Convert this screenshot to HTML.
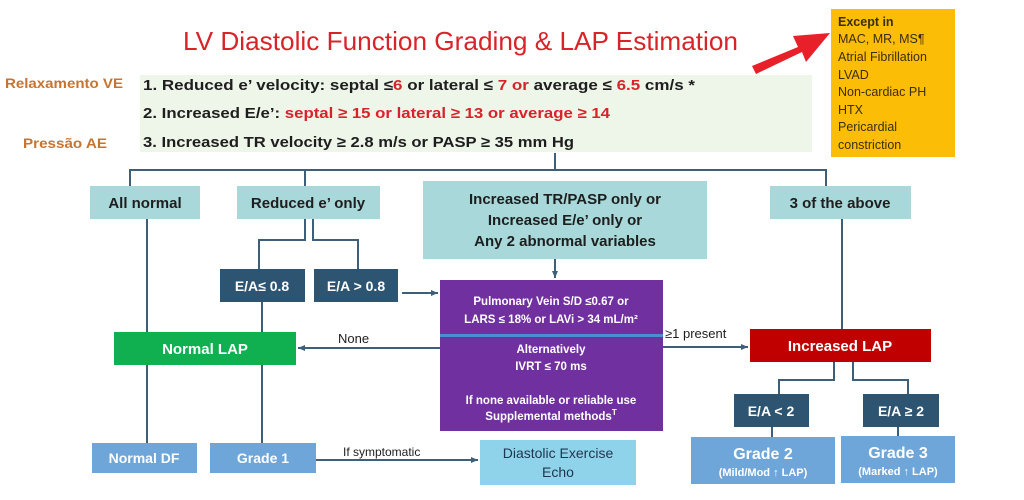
<!DOCTYPE html>
<html><head><meta charset="utf-8"><style>
html,body{margin:0;padding:0;background:#fff;}
svg{display:block;font-family:"Liberation Sans",sans-serif;}
.b{font-weight:bold;}
</style></head><body>
<svg width="1024" height="500" viewBox="0 0 1024 500" xmlns="http://www.w3.org/2000/svg">
<defs><marker id="ar" markerUnits="userSpaceOnUse" markerWidth="8" markerHeight="8" refX="7" refY="4" orient="auto"><path d="M0,1 L7,4 L0,7 Z" fill="#3d5f7a"/></marker></defs>
<rect width="1024" height="500" fill="#fff"/>
<text x="183" y="50" font-size="26" fill="#d9232a" textLength="555" lengthAdjust="spacingAndGlyphs">LV Diastolic Function Grading &amp; LAP Estimation</text>
<!-- red arrow -->
<path d="M752,66 L798,47 L793,36 L830,33 L806,62 L802,52 L756,74 Z" fill="#e8202a"/>
<!-- criteria bg -->
<rect x="140" y="75" width="672" height="77" fill="#eef5e9"/>
<text x="5" y="88" font-size="14" class="b" fill="#c8742f" textLength="118" lengthAdjust="spacingAndGlyphs">Relaxamento VE</text>
<text x="23" y="148" font-size="14" class="b" fill="#c8742f" textLength="84" lengthAdjust="spacingAndGlyphs">Pressão AE</text>
<g font-size="15" class="b" fill="#1e1e1e">
<text x="143" y="90" textLength="552" lengthAdjust="spacingAndGlyphs">1. Reduced e’ velocity:  septal ≤<tspan fill="#d9232a">6</tspan>  or lateral ≤ <tspan fill="#d9232a">7 or</tspan> average ≤ <tspan fill="#d9232a">6.5</tspan> cm/s *</text>
<text x="143" y="118" textLength="467" lengthAdjust="spacingAndGlyphs">2. Increased E/e’: <tspan fill="#d9232a">septal ≥ 15 or lateral ≥ 13 or average ≥ 14</tspan></text>
<text x="143" y="147" textLength="431" lengthAdjust="spacingAndGlyphs">3. Increased TR velocity ≥ 2.8 m/s or PASP ≥ 35 mm Hg</text>
</g>
<!-- orange box -->
<rect x="831" y="9" width="124" height="148" fill="#fcbd06"/>
<g font-size="12.5" fill="#3a2e10">
<text x="838" y="26" class="b">Except in</text>
<text x="838" y="43">MAC, MR, MS¶</text>
<text x="838" y="61">Atrial Fibrillation</text>
<text x="838" y="79">LVAD</text>
<text x="838" y="96">Non-cardiac PH</text>
<text x="838" y="114">HTX</text>
<text x="838" y="131">Pericardial</text>
<text x="838" y="149">constriction</text>
</g>
<!-- connectors -->
<g stroke="#3d5f7a" stroke-width="2" fill="none">
<path d="M555,153 V170 M130,186 V170 H826 V186 M305,170 V186"/>
<path d="M147,219 V332 M147,365 V444 M262,302 V332 M262,365 V444"/>
<path d="M305,219 V240 H259 V269 M313,219 V240 H358 V269"/>
<path d="M842,219 V329"/>
<path d="M834,362 V380 H779 V394 M853,362 V380 H908 V394 M772,427 V437 M898,427 V437"/>
<path d="M402,293 H438" marker-end="url(#ar)"/>
<path d="M555,259 V278" marker-end="url(#ar)"/>
<path d="M440,348 H298" marker-end="url(#ar)"/>
<path d="M663,347 H748" marker-end="url(#ar)"/>
<path d="M316,460 H478" marker-end="url(#ar)"/>
</g>
<!-- teal boxes -->
<g fill="#a8d8d9">
<rect x="90" y="186" width="110" height="33"/>
<rect x="237" y="186" width="143" height="33"/>
<rect x="423" y="181" width="284" height="78"/>
<rect x="770" y="186" width="141" height="33"/>
</g>
<g font-size="15" class="b" fill="#1e1e1e" text-anchor="middle">
<text x="145" y="208">All normal</text>
<text x="308" y="208">Reduced e’ only</text>
<text x="565" y="204">Increased TR/PASP only or</text>
<text x="565" y="225">Increased E/e’ only or</text>
<text x="565" y="246">Any 2 abnormal variables</text>
<text x="840" y="208">3 of the above</text>
</g>
<!-- dark boxes -->
<g fill="#2d5470">
<rect x="220" y="269" width="85" height="33"/>
<rect x="314" y="269" width="84" height="33"/>
<rect x="734" y="394" width="75" height="33"/>
<rect x="863" y="394" width="76" height="33"/>
</g>
<g font-size="14" class="b" fill="#fff" text-anchor="middle">
<text x="262" y="291">E/A≤ 0.8</text>
<text x="356" y="291">E/A &gt; 0.8</text>
<text x="771" y="416">E/A &lt;  2</text>
<text x="901" y="416">E/A ≥ 2</text>
</g>
<!-- purple -->
<rect x="440" y="280" width="223" height="151" fill="#7030a0"/>
<rect x="440" y="334" width="223" height="3" fill="#4a8fd4"/>
<g font-size="11.5" class="b" fill="#fff" text-anchor="middle">
<text x="551" y="305">Pulmonary Vein S/D ≤0.67 or</text>
<text x="551" y="323">LARS ≤ 18% or LAVi &gt; 34 mL/m²</text>
<text x="551" y="353">Alternatively</text>
<text x="551" y="370">IVRT  ≤ 70 ms</text>
<text x="551" y="404">If none available or reliable use</text>
<text x="551" y="420">Supplemental methods<tspan font-size="8" dy="-5">T</tspan></text>
</g>
<!-- LAP boxes -->
<rect x="114" y="332" width="182" height="33" fill="#10b050"/>
<rect x="750" y="329" width="181" height="33" fill="#c00000"/>
<g font-size="15" class="b" fill="#fff" text-anchor="middle">
<text x="205" y="354">Normal LAP</text>
<text x="840" y="351">Increased LAP</text>
</g>
<g font-size="13" fill="#1e1e1e">
<text x="338" y="343">None</text>
<text x="665" y="338">≥1 present</text>
<text x="343" y="456" font-size="12">If symptomatic</text>
</g>
<!-- bottom boxes -->
<g fill="#6ea6da">
<rect x="92" y="443" width="105" height="30"/>
<rect x="210" y="443" width="106" height="30"/>
<rect x="691" y="437" width="144" height="47"/>
<rect x="841" y="436" width="114" height="47"/>
</g>
<rect x="480" y="440" width="156" height="45" fill="#8fd3ea"/>
<g font-size="14" class="b" fill="#fff" text-anchor="middle">
<text x="144" y="463">Normal DF</text>
<text x="263" y="463">Grade 1</text>
<text x="763" y="459" font-size="16">Grade 2</text>
<text x="898" y="458" font-size="16">Grade 3</text>
<text x="763" y="476" font-size="11">(Mild/Mod ↑ LAP)</text>
<text x="898" y="475" font-size="11">(Marked ↑ LAP)</text>
</g>
<g font-size="14" fill="#1f3550" text-anchor="middle">
<text x="558" y="458">Diastolic Exercise</text>
<text x="558" y="477">Echo</text>
</g>
</svg>
</body></html>
